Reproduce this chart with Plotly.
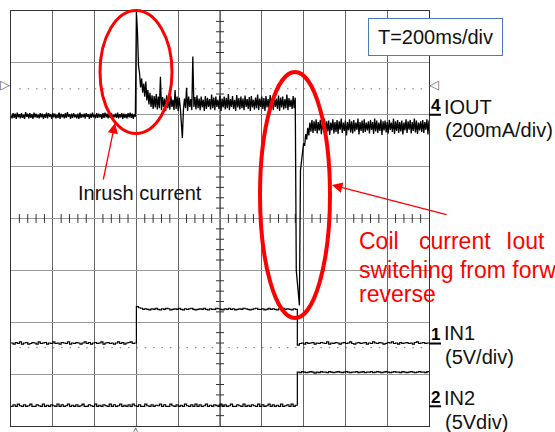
import plotly.graph_objects as go

# ---------------- figure geometry (pixels) ----------------
W, H = 555, 432
L, R, T, B = 11, 429, 11, 426          # graticule box

# ---------------- scope settings ----------------
TIME_PER_DIV_MS = 200
IOUT_MA_PER_DIV = 200
IN_V_PER_DIV = 5
IOUT_OFFSET_DIV = 2.0       # channel 4 ground marker
IN1_OFFSET_DIV = -2.41      # channel 1 ground marker
IN2_OFFSET_DIV = -3.62      # channel 2 ground marker
CURSOR_DIV = [2.5, -2.49]   # dotted horizontal cursors

IOUT_STEP_MS = 5
IN_STEP_MS = 10

# ---------------- IOUT (mA), sampled every 5 ms ----------------
IOUT_PRE_START_MS = 0
IOUT_PRE_MA = [
    -2, -14, 6, -12, 4, -16, 8, -10, 2, -14,
    6, -12, 0, -16, 10, -8, 4, -14, 6, -12,
    2, -16, 8, -10, 4, -12, 0, -14, 6, -10,
    4, -16, 2, -12, 8, -14, 6, -8, 2, -16,
    6, -10, 4, -14, 0, -12, 8, -16, 4, -10,
    2, -14, 6, -12, 10, -8, 2, -16, 4, -12,
    6, -10, 0, -14, 4, -16, 8, -12, 2, -10,
    4, -14, 6, -8, 2, -16, 4, -12, 8, -10,
    0, -14, 6, -12, 4, -10, 2, -16, 6, -12,
    8, -10, 4, -14, 2, -12, 6, -16, 0, -10,
    4, -12, 8, -14, 2, -10, 6, -16, 4, -12,
    2, -14, 6, -10, 8, -12, 4, -16, 2, -8,
]
IOUT_INRUSH_START_MS = 600
IOUT_INRUSH_MA = [
    396, 320, 190, 160, 105, 140, 85, 120, 70, 128,
    55, 95, 40, 85, 30, 75, 22, 72, 28, 80,
    20, 70, 25, 146, 18, 68, 30, 62, 15, 75,
    25, 60, 20, 72, 30, 58, 18, 95, 22, 70,
    15, 65, 28, -20, -90, 20, 62, 25, 104, 15,
    70, 30, 60, 18, 225, 30, 68, 20, 75, 25,
    62, 18, 70, 28, 58, 15, 72, 22, 65, 30,
    60, 20, 78, 25, 66, 18, 70, 30, 58, 22,
    74, 15, 62, 28, 70, 20, 65, 25, 80, 18,
    60, 30, 72, 22, 58, 15, 76, 28, 64, 20,
    70, 25, 62, 18, 74, 30, 60, 22, 68, 15,
    72, 28, 58, 20, 66, 25, 78, 18, 62, 30,
    70, 22, 64, 15, 72, 28, 60, 20, 76, 25,
    58, 18, 68, 30, 62, 22, 74, 15, 66, 28,
    70, 20, 60, 25, 78, 18, 64, 30, 58, 22,
    72, 25, 66,
]
IOUT_REVERSE_START_MS = 1365
IOUT_REVERSE_MA = [
    -600, -650, -700, -735, -215, -175, -150, -110, -120, -75,
    -95, -50, -80, -30, -65, -20, -70, -25, -62, -18,
    -72, -28, -60, -20, -75, -30, -58, -15, -70, -25,
    -64, -22, -78, -30, -60, -18, -72, -28, -66, -20,
    -74, -25, -58, -15, -70, -30, -62, -22, -80, -28,
    -60, -18, -68, -25, -72, -20, -64, -30, -58, -15,
    -76, -28, -62, -22, -70, -18, -66, -30, -60, -25,
    -72, -20, -58, -28, -74, -15, -64, -22, -70, -30,
    -62, -18, -78, -25, -60, -22, -68, -28, -72, -20,
    -58, -30, -66, -15, -74, -25, -62, -20, -70, -28,
    -64, -22, -76, -30, -60, -18, -70, -25, -58, -20,
    -72, -28, -62, -15, -68, -22, -74, -30, -60, -25,
    -66, -20, -70, -28, -58, -18, -76, -22,
]

# ---------------- IN1 (V), sampled every 10 ms ----------------
IN1_LOW1_START_MS = 0
IN1_LOW1_V = [
    0.05, -0.05, 0.1, 0.0, 0.15, -0.05, 0.05, 0.1, -0.05, 0.0,
    0.1, 0.05, -0.05, 0.15, 0.0, 0.05, 0.1, -0.05, 0.05, 0.0,
    0.15, 0.0, 0.05, -0.05, 0.1, 0.05, 0.0, 0.15, -0.05, 0.05,
    0.0, 0.1, 0.05, -0.05, 0.05, 0.15, 0.0, 0.1, -0.05, 0.05,
    0.1, 0.0, 0.05, 0.15, -0.05, 0.05, 0.1, 0.0, 0.05, -0.05,
    0.05, 0.15, 0.0, 0.1, -0.05, 0.05, 0.1, 0.15, 0.0, 0.05,
]
IN1_HIGH_START_MS = 600
IN1_HIGH_V = [
    3.55, 3.45, 3.4, 3.3, 3.35, 3.3, 3.25, 3.35, 3.3, 3.4,
    3.3, 3.25, 3.35, 3.3, 3.4, 3.35, 3.25, 3.3, 3.35, 3.3,
    3.4, 3.3, 3.25, 3.35, 3.3, 3.35, 3.4, 3.3, 3.25, 3.3,
    3.35, 3.3, 3.4, 3.3, 3.25, 3.35, 3.3, 3.3, 3.4, 3.35,
    3.3, 3.25, 3.35, 3.3, 3.4, 3.3, 3.35, 3.25, 3.3, 3.35,
    3.3, 3.4, 3.35, 3.3, 3.25, 3.3, 3.35, 3.4, 3.3, 3.3,
    3.35, 3.25, 3.3, 3.4, 3.3, 3.35, 3.3, 3.25, 3.35, 3.3,
    3.4, 3.3, 3.35, 3.3, 3.25, 3.35, 3.3,
]
IN1_LOW2_START_MS = 1370
IN1_LOW2_V = [
    -0.15, 0.0, 0.05, -0.05, 0.1, 0.0, 0.05, 0.1, -0.05, 0.05,
    0.0, 0.1, 0.05, 0.0, 0.15, -0.05, 0.05, 0.0, 0.1, 0.05,
    -0.05, 0.05, 0.1, 0.0, 0.05, 0.15, 0.0, -0.05, 0.05, 0.1,
    0.0, 0.05, 0.1, -0.05, 0.05, 0.0, 0.15, 0.05, 0.0, 0.1,
    0.05, -0.05, 0.0, 0.1, 0.05, 0.15, 0.0, 0.05, -0.05, 0.1,
    0.0, 0.05, 0.1, 0.0, 0.05, -0.05, 0.1, 0.15, 0.0, 0.05,
    0.1, 0.0, 0.05, 0.0,
]

# ---------------- IN2 (V), sampled every 10 ms ----------------
IN2_LOW_START_MS = 0
IN2_LOW_V = [
    0.0, 0.15, 0.0, 0.2, 0.05, 0.0, 0.15, 0.0, 0.05, 0.2,
    0.0, 0.0, 0.15, 0.05, 0.0, 0.2, 0.0, 0.1, 0.0, 0.15,
    0.05, 0.0, 0.2, 0.0, 0.15, 0.0, 0.05, 0.2, 0.0, 0.1,
    0.0, 0.15, 0.0, 0.05, 0.2, 0.0, 0.0, 0.15, 0.05, 0.0,
    0.2, 0.0, 0.1, 0.0, 0.15, 0.05, 0.0, 0.2, 0.0, 0.15,
    0.0, 0.05, 0.2, 0.0, 0.1, 0.0, 0.15, 0.0, 0.2, 0.05,
    0.0, 0.15, 0.0, 0.0, 0.2, 0.05, 0.0, 0.15, 0.0, 0.1,
    0.05, 0.2, 0.0, 0.15, 0.0, 0.0, 0.2, 0.05, 0.0, 0.15,
    0.0, 0.1, 0.0, 0.2, 0.05, 0.0, 0.15, 0.0, 0.2, 0.0,
    0.15, 0.0, 0.05, 0.2, 0.0, 0.1, 0.0, 0.15, 0.05, 0.0,
    0.2, 0.0, 0.15, 0.0, 0.05, 0.2, 0.0, 0.0, 0.15, 0.05,
    0.0, 0.2, 0.0, 0.1, 0.0, 0.15, 0.05, 0.0, 0.2, 0.0,
    0.15, 0.0, 0.05, 0.2, 0.0, 0.15, 0.0, 0.1, 0.0, 0.2,
    0.0, 0.05, 0.15, 0.0, 0.2, 0.0, 0.1,
]
IN2_HIGH_START_MS = 1370
IN2_HIGH_V = [
    3.3, 3.25, 3.35, 3.3, 3.25, 3.3, 3.35, 3.3, 3.2, 3.3,
    3.25, 3.35, 3.3, 3.3, 3.25, 3.35, 3.3, 3.25, 3.3, 3.35,
    3.3, 3.25, 3.3, 3.35, 3.3, 3.25, 3.3, 3.3, 3.35, 3.25,
    3.3, 3.35, 3.25, 3.3, 3.3, 3.35, 3.25, 3.3, 3.35, 3.3,
    3.25, 3.3, 3.35, 3.3, 3.25, 3.3, 3.35, 3.3, 3.3, 3.25,
    3.35, 3.3, 3.25, 3.3, 3.35, 3.3, 3.25, 3.3, 3.35, 3.3,
    3.3, 3.25, 3.35, 3.3,
]

# ---------------- texts ----------------
TIMEBASE_TEXT = "T=200ms/div"
CH_LABELS = [("4", "IOUT", "(200mA/div)"), ("1", "IN1", "(5V/div)"), ("2", "IN2", "(5Vdiv)")]
INRUSH_TEXT = "Inrush current"
COIL_LINE1 = ["Coil", "current", "Iout"]
COIL_LINE2 = "switching from forward to"
COIL_LINE3 = "reverse"

FONT = "Liberation Sans, Arial, Helvetica, sans-serif"


def build(segments, step):
    t, v = [], []
    for start, vals in segments:
        t += [start + step * k for k in range(len(vals))]
        v += list(vals)
    return t, v


iout_t, iout_ma = build([(IOUT_PRE_START_MS, IOUT_PRE_MA),
                         (IOUT_INRUSH_START_MS, IOUT_INRUSH_MA),
                         (IOUT_REVERSE_START_MS, IOUT_REVERSE_MA)], IOUT_STEP_MS)
in1_t, in1_v = build([(IN1_LOW1_START_MS, IN1_LOW1_V),
                      (IN1_HIGH_START_MS, IN1_HIGH_V),
                      (IN1_LOW2_START_MS, IN1_LOW2_V)], IN_STEP_MS)
in2_t, in2_v = build([(IN2_LOW_START_MS, IN2_LOW_V),
                      (IN2_HIGH_START_MS, IN2_HIGH_V)], IN_STEP_MS)

iout_div = [IOUT_OFFSET_DIV + v / IOUT_MA_PER_DIV for v in iout_ma]
in1_div = [IN1_OFFSET_DIV + v / IN_V_PER_DIV for v in in1_v]
in2_div = [IN2_OFFSET_DIV + v / IN_V_PER_DIV for v in in2_v]

fig = go.Figure()

# graticule minor ticks on the centre axes
tx, ty = [], []
for k in range(0, 51):
    t = k * TIME_PER_DIV_MS / 5
    if k % 5:
        tx += [t, t, None]
        ty += [-0.085, 0.085, None]
half_ms = 4.0 / ((R - L) / 10) * TIME_PER_DIV_MS
for k in range(-20, 21):
    if k % 5:
        y = k / 5
        tx += [1000 - half_ms, 1000 + half_ms, None]
        ty += [y, y, None]
fig.add_trace(go.Scatter(x=tx, y=ty, mode="lines", line=dict(color="#333333", width=1),
                         hoverinfo="skip", showlegend=False))

for xs, ys, shape, w in [(in1_t, in1_div, "hv", 1.2), (in2_t, in2_div, "hv", 1.2),
                         (iout_t, iout_div, "linear", 1.3)]:
    fig.add_trace(go.Scatter(x=xs, y=ys, mode="lines",
                             line=dict(color="#000000", width=w, shape=shape),
                             hoverinfo="skip", showlegend=False))


def px(x, y):
    return (x - L) / (R - L), (B - y) / (B - T)


shapes = []
# centre vertical line (darker)
shapes.append(dict(type="line", xref="x", yref="paper", x0=1000, x1=1000, y0=0, y1=1,
                   line=dict(color="#222222", width=1), layer="below"))
# dotted cursors
for c in CURSOR_DIV:
    shapes.append(dict(type="line", xref="paper", yref="y", x0=0.02, x1=0.995, y0=c, y1=c,
                       line=dict(color="#777777", width=1, dash="1.5px,6.86px"), layer="below"))
# channel ground markers
for off in [IOUT_OFFSET_DIV, IN1_OFFSET_DIV, IN2_OFFSET_DIV]:
    x0, _ = px(429, 0)
    x1, _ = px(441, 0)
    shapes.append(dict(type="line", xref="paper", yref="y", x0=x0, x1=x1, y0=off, y1=off,
                       line=dict(color="#000000", width=2)))


def ellipse(cx, cy, rx, ry, w):
    x0, y0 = px(cx - rx, cy + ry)
    x1, y1 = px(cx + rx, cy - ry)
    return dict(type="circle", xref="paper", yref="paper", x0=x0, x1=x1, y0=y0, y1=y1,
                line=dict(color="#ff0000", width=w))


shapes.append(ellipse(136, 72, 36, 61.5, 3))
shapes.append(ellipse(295, 195, 35, 123, 4))

ann = []


def text(x, y, s, size=20, color="#111111", xanchor="left", **kw):
    fx, fy = px(x, y)
    ann.append(dict(xref="paper", yref="paper", x=fx, y=fy, text=s, showarrow=False,
                    xanchor=xanchor, yanchor="middle",
                    font=dict(family=FONT, size=size, color=color), **kw))


# timebase box
fx, fy = px(435, 37.5)
ann.append(dict(xref="paper", yref="paper", x=fx, y=fy, text=TIMEBASE_TEXT, showarrow=False,
                xanchor="center", yanchor="middle", width=131, height=34,
                bordercolor="#4a7ab8", borderwidth=1, borderpad=1, bgcolor="white",
                font=dict(family=FONT, size=20, color="#111111")))

# channel labels
label_y = [(106, 107, 130), (334, 333, 356.5), (397, 398, 421.5)]
for (num, name, scale), (ny, y1, y2) in zip(CH_LABELS, label_y):
    text(435.5, ny, "<b>" + num + "</b>", size=17, color="#000000", xanchor="center")
    text(442, y1, name)
    text(443, y2, scale)

# scope position markers
text(5, 84, "▷", size=13, color="#666666", xanchor="center")
text(434, 84, "◁", size=13, color="#666666", xanchor="center")
text(136, 431, "△", size=12, color="#444444", xanchor="center")

# annotations
text(139.5, 193, INRUSH_TEXT, size=20, xanchor="center")
for word, x in zip(COIL_LINE1, [357, 417, 504]):
    text(x, 241, word, size=23, color="#ff0000")
text(357, 269.5, COIL_LINE2, size=23, color="#ff0000")
text(357, 294, COIL_LINE3, size=23, color="#ff0000")

# arrows
for head, tail in [((115, 123), (103, 181)), ((332, 185), (448, 215))]:
    hx, hy = px(*head)
    ann.append(dict(xref="paper", yref="paper", x=hx, y=hy, text="", showarrow=True,
                    ax=tail[0] - head[0], ay=tail[1] - head[1], arrowhead=2,
                    arrowsize=1.6, arrowwidth=1.3, arrowcolor="#ff0000", standoff=0))

axis_common = dict(showticklabels=False, ticks="", zeroline=False, showline=True,
                   linecolor="#333333", linewidth=1, mirror=True, fixedrange=True)
fig.update_layout(
    width=W, height=H,
    margin=dict(l=L, r=W - R, t=T, b=H - B, pad=0),
    paper_bgcolor="white", plot_bgcolor="white",
    xaxis=dict(range=[0, 10 * TIME_PER_DIV_MS], dtick=TIME_PER_DIV_MS, showgrid=True,
               gridcolor="#666666", gridwidth=1, **axis_common),
    yaxis=dict(range=[-4, 4], dtick=1, showgrid=True, gridcolor="#999999", gridwidth=1,
               **axis_common),
    shapes=shapes, annotations=ann, showlegend=False,
)

fig.write_html("out.html", config={"displayModeBar": False, "staticPlot": True},
               post_script="document.body.style.margin='0px';document.body.style.overflow='hidden';")
